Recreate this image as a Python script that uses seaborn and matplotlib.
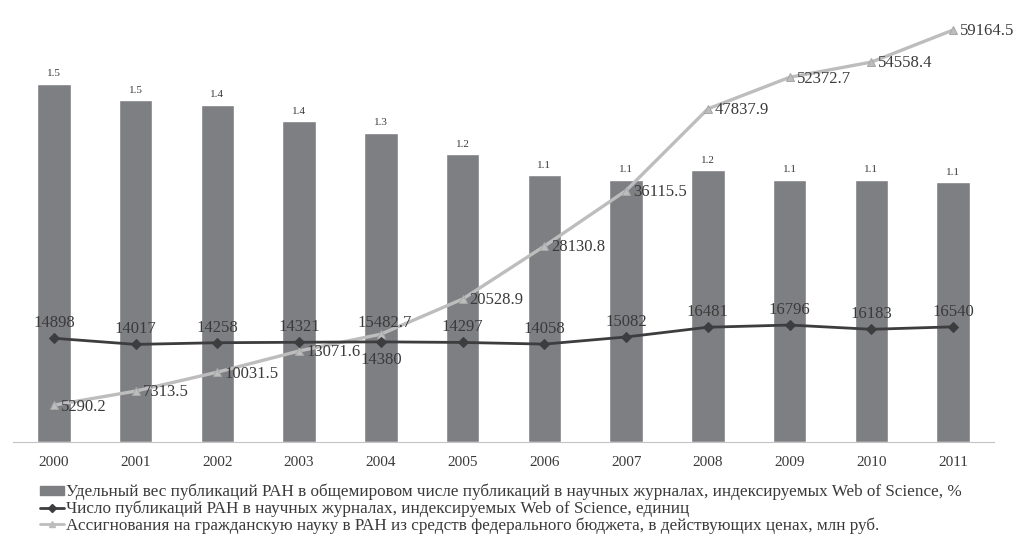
import numpy as np
import pandas as pd
import matplotlib
matplotlib.use('Agg')
import matplotlib.pyplot as plt
import seaborn as sns
from matplotlib.lines import Line2D
from matplotlib.patches import Patch

# данные
years = ['2000', '2001', '2002', '2003', '2004', '2005',
         '2006', '2007', '2008', '2009', '2010', '2011']
share = [1.53, 1.46, 1.44, 1.37, 1.32, 1.23, 1.14, 1.12, 1.16, 1.12, 1.12, 1.11]
pubs = [14898, 14017, 14258, 14321, 14380, 14297, 14058, 15082, 16481, 16796, 16183, 16540]
funds = [5290.2, 7313.5, 10031.5, 13071.6, 15482.7, 20528.9, 28130.8,
         36115.5, 47837.9, 52372.7, 54558.4, 59164.5]

labels = [
    'Удельный вес публикаций РАН в общемировом числе публикаций в научных журналах, индексируемых Web of Science, %',
    'Число публикаций РАН в научных журналах, индексируемых Web of Science, единиц',
    'Ассигнования на гражданскую науку в РАН из средств федерального бюджета, в действующих ценах, млн руб.',
]

df = pd.DataFrame({'year': years, 'share': share, 'pubs': pubs, 'funds': funds})
df['pos'] = np.arange(len(df))

sns.set_style('white')
plt.rcParams['font.family'] = ['Liberation Serif', 'DejaVu Serif']

bar_color = '#7e7f83'
pub_color = '#3d3d3f'
fund_color = '#bdbdbd'
text_color = '#3a3a3a'

fig = plt.figure(figsize=(10.24, 5.43), dpi=100)
ax = fig.add_axes([13 / 1024, 101 / 543, 981 / 1024, 422 / 543])

# столбцы
sns.barplot(data=df, x='year', y='share', color=bar_color, width=0.41,
            saturation=1, ax=ax)
ax.set_ylim(0, 1.803)
ax.set_xlim(-0.5, 11.5)
for i, v in enumerate(share):
    ax.annotate(f'{v:.1f}', (i, v), xytext=(0, 4), textcoords='offset points',
                ha='center', va='bottom', fontsize=8, color=text_color)

# линии на второй оси
ax2 = ax.twinx()
sns.lineplot(data=df, x='pos', y='funds', ax=ax2, color=fund_color, lw=2.4,
             marker='^', markersize=6, markeredgecolor='#a8a8a8')
sns.lineplot(data=df, x='pos', y='pubs', ax=ax2, color=pub_color, lw=2,
             marker='D', markersize=5, markeredgecolor=pub_color)
ax2.set_ylim(0, 60600)
ax2.set_xlim(-0.5, 11.5)

for i, v in enumerate(pubs):
    if years[i] == '2004':
        ax2.annotate(str(v), (i, v), xytext=(0, -7), textcoords='offset points',
                     ha='center', va='top', fontsize=12, color=text_color)
    else:
        ax2.annotate(str(v), (i, v), xytext=(0, 5), textcoords='offset points',
                     ha='center', va='bottom', fontsize=12, color=text_color)

for i, v in enumerate(funds):
    if years[i] == '2004':
        ax2.annotate(f'{v:.1f}', (i, v), xytext=(3, 2), textcoords='offset points',
                     ha='center', va='bottom', fontsize=12, color=text_color)
    else:
        ax2.annotate(f'{v:.1f}', (i, v), xytext=(5, -1), textcoords='offset points',
                     ha='left', va='center', fontsize=12, color=text_color)

# оформление осей
for a in (ax, ax2):
    for s in ('top', 'right', 'left'):
        a.spines[s].set_visible(False)
    a.set_xlabel('')
    a.set_ylabel('')
    a.set_yticks([])
ax2.spines['bottom'].set_visible(False)
ax2.set_xticks([])
ax.spines['bottom'].set_color('#c4c4c4')
ax.set_xticks(range(len(years)))
ax.set_xticklabels(years, fontsize=11, color=text_color)
ax.tick_params(axis='x', which='major', length=0, pad=10)
ax.set_xticks(np.arange(-0.5, 12, 1), minor=True)
ax.tick_params(axis='x', which='minor', length=3, color='#c4c4c4')

# легенда
handles = [
    Patch(facecolor=bar_color, edgecolor=bar_color),
    Line2D([], [], color=pub_color, lw=2, marker='D', markersize=4),
    Line2D([], [], color=fund_color, lw=2, marker='^', markersize=4),
]
leg = fig.legend(handles, labels, loc='upper left', bbox_to_anchor=(40 / 1024, 1 - 484 / 543),
                 frameon=False, fontsize=12.3, handlelength=1.4, handleheight=0.5,
                 handletextpad=0.1, labelspacing=0.0, borderpad=0, borderaxespad=0)
for t in leg.get_texts():
    t.set_color(text_color)

fig.savefig('out.png', dpi=100, facecolor='white')
